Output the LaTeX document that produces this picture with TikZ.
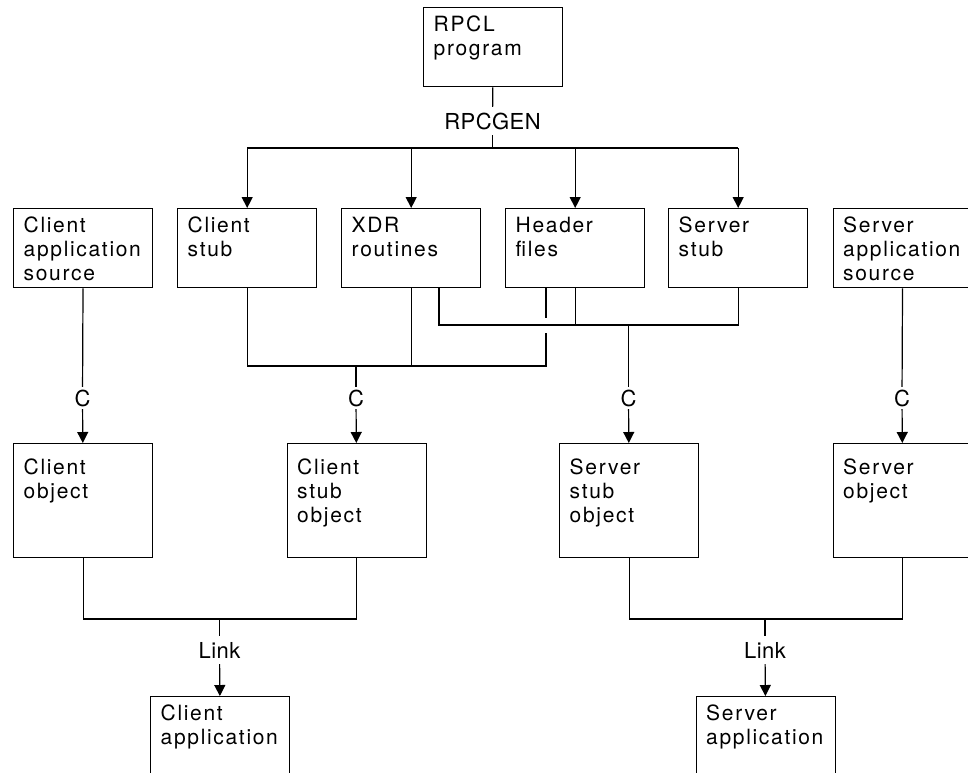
\documentclass[tikz,border=0pt]{standalone}
\usepackage{fontspec}
\newfontfamily\cajafont[LetterSpace=8]{TeX Gyre Heros}
\newfontfamily\etiqfont[LetterSpace=2]{TeX Gyre Heros}
\usepackage{tikz}
\usetikzlibrary{arrows.meta,positioning}

\begin{document}
\begin{tikzpicture}
 	[x=1pt,y=-1pt,
 	caja/.style={draw=black,line width=1.4pt,anchor=north west,
 		minimum width=139pt,minimum height=79pt,text width=119pt,align=left,
 		inner xsep=10pt,inner ysep=4pt,text height=20pt,text depth=51pt,
 		font=\cajafont\fontsize{21}{24}\selectfont},
 	cajaobj/.style={caja,minimum height=114pt,text height=27pt,text depth=79pt},
 	etiq/.style={inner xsep=2pt,inner ysep=6pt,text height=16pt,text depth=0pt,
 		font=\etiqfont\fontsize{22}{24}\selectfont},
 	etiqc/.style={etiq,inner ysep=3pt},
 	linea/.style={line width=1.2pt},
 	flecha/.style={linea,-{Triangle[length=11pt,width=11pt]}}]
 	\useasboundingbox (0,0) rectangle (968,772);
 	\clip (0,0) rectangle (968,772);
 	% programa RPCL y rpcgen
 	\node[caja] (rpcl) at (423,7) {RPCL\\program};
 	\node[etiq] (rpcgen) at (492.5,121) {RPCGEN};
 	\coordinate (rama) at (492.5,148);
 	\draw[linea] (rpcl) -- (rpcgen);
 	\draw[linea] (rpcgen) -- (rama);
 	% fila de arriba
 	\node[caja] (clisrc) at (13,208) {Client\\application\\source};
 	\node[caja] (clistub) at (177,208) {Client\\stub};
 	\node[caja] (xdr) at (341,208) {XDR\\routines};
 	\node[caja] (hdr) at (505,208) {Header\\files};
 	\node[caja] (srvstub) at (668,208) {Server\\stub};
 	\node[caja] (srvsrc) at (832.5,208) {Server\\application\\source};
 	\draw[linea] (clistub.north |- rama) -- (srvstub.north |- rama);
 	\foreach \c in {clistub,xdr,hdr,srvstub}
 		\draw[flecha] (\c.north |- rama) -- (\c.north);
 	% objetos
 	\node[cajaobj] (cliobj) at (13,443) {Client\\object};
 	\node[cajaobj] (clistubobj) at (286.5,443) {Client\\stub\\object};
 	\node[cajaobj] (srvstubobj) at (559,443) {Server\\stub\\object};
 	\node[cajaobj] (srvobj) at (832.5,443) {Server\\object};
 	\node[etiqc] (c1) at (82.5,398) {C};
 	\node[etiqc] (c2) at (356,398) {C};
 	\node[etiqc] (c3) at (628.5,398) {C};
 	\node[etiqc] (c4) at (902,398) {C};
 	\draw[linea] (clisrc) -- (c1);
 	\draw[flecha] (c1) -- (cliobj);
 	\draw[linea] (srvsrc) -- (c4);
 	\draw[flecha] (c4) -- (srvobj);
 	% bus del stub cliente (con salto)
 	\coordinate (busa) at (356,366);
 	\coordinate (hdrl) at (546,366);
 	\coordinate (salto1) at (546,318);
 	\coordinate (salto2) at (546,333);
 	\draw[linea] (clistub.south) -- (clistub.south |- busa) -- (hdrl) -- (salto2);
 	\draw[linea] (hdr.south -| hdrl) -- (salto1);
 	\draw[linea] (xdr.south) -- (xdr.south |- busa);
 	\draw[linea] (busa) -- (c2);
 	\draw[flecha] (c2) -- (clistubobj);
 	% bus del stub servidor
 	\coordinate (busb) at (628.5,325);
 	\coordinate (xdrr) at (439,325);
 	\draw[linea] (xdr.south -| xdrr) -- (xdrr) -- (srvstub.south |- xdrr) -- (srvstub.south);
 	\draw[linea] (hdr.south) -- (hdr.south |- xdrr);
 	\draw[linea] (busb) -- (c3);
 	\draw[flecha] (c3) -- (srvstubobj);
 	% enlazado
 	\coordinate (enla) at (219.5,619);
 	\coordinate (enlb) at (765,619);
 	\node[etiq] (link1) at (219.5,650) {Link};
 	\node[etiq] (link2) at (765,650) {Link};
 	\node[caja] (cliapp) at (150,696) {Client\\application};
 	\node[caja] (srvapp) at (695.5,696) {Server\\application};
 	\draw[linea] (cliobj.south) -- (cliobj.south |- enla) -- (clistubobj.south |- enla) -- (clistubobj.south);
 	\draw[linea] (enla) -- (link1);
 	\draw[flecha] (link1) -- (cliapp);
 	\draw[linea] (srvstubobj.south) -- (srvstubobj.south |- enlb) -- (srvobj.south |- enlb) -- (srvobj.south);
 	\draw[linea] (enlb) -- (link2);
 	\draw[flecha] (link2) -- (srvapp);
\end{tikzpicture}
\end{document}
